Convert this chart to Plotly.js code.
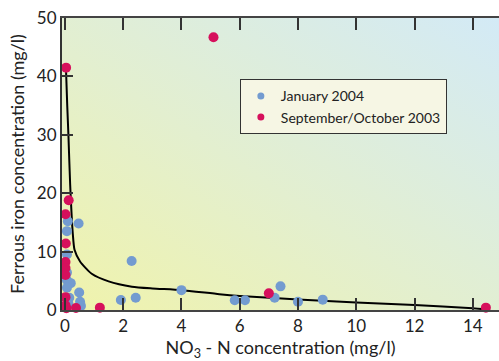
<!DOCTYPE html>
<html>
<head>
<meta charset="utf-8">
<script src="https://cdn.plot.ly/plotly-3.0.1.min.js"></script>
<style>html,body{margin:0;padding:0;background:#fff;}#chart{width:499px;height:361px;}</style>
</head>
<body>
<div id="chart"></div>
<script>
// January 2004 samples
const janX = [0.10, 0.47, 0.07, 0.07, 0.07, 0.07, 0.20, 0.07, 0.49, 0.15, 0.52, 0.55, 0.12,
              1.92, 2.29, 2.43, 4.00, 5.83, 6.18, 7.20, 7.40, 8.00, 8.85];
const janY = [15.2, 14.8, 13.5, 9.5, 6.4, 5.1, 4.6, 3.8, 3.0, 2.1, 1.4, 0.7, 1.1,
              1.7, 8.4, 2.1, 3.4, 1.66, 1.66, 2.1, 4.05, 1.4, 1.77];
// September/October 2003 samples
const sepX = [0.04, 5.10, 0.13, 0.02, 0.03, 0.02, 0.02, 0.02, 0.02, 0.02, 0.05, 0.38, 1.20, 7.00, 14.45];
const sepY = [41.5, 46.7, 18.8, 16.4, 11.4, 8.2, 7.2, 6.0, 2.2, 0.8, 0.3, 0.35, 0.4, 2.85, 0.4];
// Fitted trend curve
const fitX = [0.04, 0.08, 0.12, 0.18, 0.27, 0.33, 0.52, 0.92, 1.5, 2.3, 3.0, 4.0, 5.3, 6.0, 8.0, 10.0, 12.0, 14.0, 14.45];
const fitY = [40.8, 35.0, 30.0, 21.5, 13.1, 10.3, 8.3, 6.2, 4.9, 4.0, 3.7, 3.4, 2.7, 2.4, 1.8, 1.3, 0.86, 0.3, 0.1];

const xTicks = [0, 2, 4, 6, 8, 10, 12, 14];
const yTicks = [0, 10, 20, 30, 40, 50];

const svg = '<svg xmlns="http://www.w3.org/2000/svg" width="100" height="100" preserveAspectRatio="none">' +
  '<defs><linearGradient id="g" x1="0" y1="1" x2="1" y2="0">' +
  '<stop offset="0" stop-color="#f0f3ab"/>' +
  '<stop offset="0.45" stop-color="#e3efcf"/>' +
  '<stop offset="1" stop-color="#d3eaf6"/>' +
  '</linearGradient></defs><rect width="100" height="100" fill="url(#g)"/></svg>';
const bgUri = 'data:image/svg+xml;charset=utf-8,' + encodeURIComponent(svg);

const font = "Lato, 'Open Sans', sans-serif";
const BLUE = '#739bd0', RED = '#d6105c';

const traces = [
  {x: fitX, y: fitY, mode: 'lines', type: 'scatter', showlegend: false,
   line: {color: '#000', width: 2, shape: 'spline', smoothing: 0.6}, hoverinfo: 'skip', cliponaxis: false},
  {x: janX, y: janY, mode: 'markers', type: 'scatter', name: 'January 2004', showlegend: false,
   marker: {color: BLUE, size: 10}, cliponaxis: false},
  {x: sepX, y: sepY, mode: 'markers', type: 'scatter', name: 'September/October 2003', showlegend: false,
   marker: {color: RED, size: 10}, cliponaxis: false},
  // legend entries (smaller swatches, as in the reference)
  {x: [null], y: [null], mode: 'markers', type: 'scatter', name: 'January 2004',
   marker: {color: BLUE, size: 7}},
  {x: [null], y: [null], mode: 'markers', type: 'scatter', name: 'September/October 2003',
   marker: {color: RED, size: 7}}
];

const layout = {
  width: 499, height: 361,
  margin: {l: 62, r: 0, t: 18, b: 51},
  paper_bgcolor: '#ffffff',
  plot_bgcolor: 'rgba(0,0,0,0)',
  font: {family: font, color: '#222', size: 16},
  images: [{source: bgUri, xref: 'paper', yref: 'paper', x: 0, y: 1, sizex: 1, sizey: 1,
            xanchor: 'left', yanchor: 'top', sizing: 'stretch', layer: 'below'}],
  xaxis: {
    range: [-0.1, 14.9], tickvals: xTicks, ticktext: xTicks.map(String),
    ticks: 'inside', ticklen: 12, tickwidth: 2, tickcolor: '#333',
    showline: true, linecolor: '#444', linewidth: 2, mirror: 'allticks',
    showgrid: false, zeroline: false,
    tickfont: {family: font, size: 17, color: '#222'},
    title: {text: 'NO<sub>3</sub> - N concentration (mg/l)', font: {family: font, size: 18, color: '#222'}, standoff: 4}
  },
  yaxis: {
    range: [0, 50], tickvals: yTicks, ticktext: yTicks.map(String),
    ticks: 'inside', ticklen: 11, tickwidth: 2, tickcolor: '#333',
    showline: true, linecolor: '#333', linewidth: 2,
    showgrid: false, zeroline: false,
    tickfont: {family: font, size: 17, color: '#222'},
    title: {text: 'Ferrous iron concentration (mg/l)', font: {family: font, size: 18, color: '#222'}, standoff: 8}
  },
  legend: {
    x: 0.407, y: 0.79, xanchor: 'left', yanchor: 'top',
    bgcolor: '#f6f6e4', bordercolor: '#333', borderwidth: 1,
    font: {family: font, size: 14, color: '#222'},
    tracegroupgap: 0, itemwidth: 30
  },
  showlegend: true
};

Plotly.newPlot('chart', traces, layout, {displayModeBar: false, staticPlot: true});
</script>
</body>
</html>
